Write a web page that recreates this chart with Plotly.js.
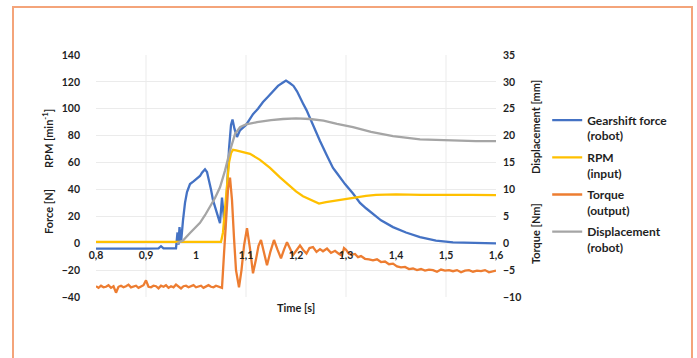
<!DOCTYPE html>
<html>
<head>
<meta charset="utf-8">
<script src="https://cdn.plot.ly/plotly-3.0.1.min.js"></script>
<style>
  html, body { margin: 0; padding: 0; background: #ffffff; }
  #wrap { position: relative; width: 697px; height: 358px; overflow: hidden; }
  #chart { position: absolute; left: 0; top: 0; width: 697px; height: 358px; }
  #frame { position: absolute; left: 12px; top: 6px; width: 677px; height: 360px;
           border: 2px solid #F4A47A; border-bottom: none; pointer-events: none; }
</style>
</head>
<body>
<div id="wrap">
  <div id="chart"></div>
  <div id="frame"></div>
</div>
<script>
// ---------- data ----------
const xTicks = [0.8, 0.9, 1.0, 1.1, 1.2, 1.3, 1.4, 1.5, 1.6];
const gridX = [0.9, 1.1, 1.3, 1.5];

// Gearshift force (robot) [N] – left axis
const forceT = [0.800,0.850,0.900,0.925,0.930,0.935,0.960,0.963,0.965,0.967,0.970,0.974,0.978,0.982,0.988,0.995,
  1.002,1.008,1.012,1.018,1.022,1.026,1.030,1.034,1.040,1.044,1.048,1.052,1.055,1.058,1.062,1.066,1.070,1.073,
  1.077,1.082,1.088,1.094,1.100,1.107,1.114,1.124,1.134,1.144,1.154,1.164,1.174,1.180,1.188,1.195,1.202,1.208,
  1.214,1.221,1.228,1.238,1.248,1.262,1.274,1.282,1.298,1.314,1.328,1.340,1.354,1.370,1.394,1.420,1.448,1.480,
  1.514,1.550,1.594,1.600];
const force = [-4,-4.2,-4,-3.8,-2.2,-3.8,-3.8,8,-1,12,0.5,17,30,38,44,46,
  48,50,52.5,55,53,47,40,32,24,19,15,34,22,10,40,70,88,92,
  85,79,84,86,88,92,96,100,105,109,113,117,119.5,121,119,117,113,109,
  104,99,93,84,76,65,56,52,44,37,30,26,22,17,12,8,4.5,2,
  0.7,0.3,0,-0.1];

// RPM (input) [min-1] – left axis
const rpmT = [0.800,1.050,1.054,1.058,1.062,1.066,1.070,1.074,1.080,1.090,1.108,1.128,1.148,1.168,1.188,1.200,
  1.214,1.230,1.246,1.260,1.280,1.300,1.320,1.340,1.360,1.380,1.400,1.450,1.500,1.550,1.600];
const rpm = [1,1,8,25,45,60,67,69.5,69,68,66.5,62,56,49,42,38.5,
  35,32,29.5,30.5,31.8,33,34.3,35.2,36,36.3,36.3,36,36.2,36,35.8];

// Torque (output) [Nm] – right axis
const torqueT = [0.800,0.805,0.810,0.815,0.820,0.825,0.830,0.835,0.840,0.845,
  0.850,0.855,0.860,0.865,0.870,0.875,0.880,0.885,0.890,0.895,
  0.900,0.905,0.910,0.915,0.920,0.925,0.930,0.935,0.940,0.945,
  0.950,0.955,0.960,0.965,0.970,0.975,0.980,0.985,0.990,0.995,
  1.000,1.005,1.010,1.015,1.020,1.025,1.030,1.035,1.040,1.045,1.050,
  1.052,1.056,1.060,1.064,1.068,1.072,1.076,1.080,1.086,1.091,1.096,1.102,1.108,1.114,1.120,1.125,1.130,1.136,
  1.142,1.149,1.156,1.163,1.170,1.176,1.182,1.188,1.194,1.201,1.208,1.214,1.221,1.227,1.234,1.241,1.248,1.254,
  1.262,1.270,1.278,1.286,1.292,1.296,1.300,1.306,1.312,1.318,1.324,1.330,1.338,1.346,1.354,1.362,1.370,1.378,
  1.386,1.394,1.402,1.410,1.418,1.426,1.434,1.442,1.450,1.458,1.466,1.474,1.482,1.490,1.498,1.506,1.514,1.522,
  1.530,1.538,1.546,1.554,1.562,1.570,1.578,1.586,1.594,1.600];
const torque = [-8.0,-8.3,-7.9,-8.2,-8.1,-7.8,-8.3,-8.0,-9.2,-8.1,
  -7.9,-8.2,-8.0,-7.7,-8.2,-8.1,-7.9,-8.3,-8.0,-7.8,
  -6.9,-8.1,-8.2,-7.9,-8.0,-8.4,-7.9,-8.1,-7.8,-8.3,
  -8.0,-8.2,-7.7,-8.1,-8.4,-8.0,-7.9,-8.2,-8.0,-7.8,
  -8.2,-8.0,-7.9,-8.3,-8.0,-7.8,-8.1,-8.2,-7.9,-8.1,-8.3,
  -8.3,-2,4,10,12.2,8,1,-5,-8.2,-5,-0.5,2.8,-1,-5.6,-3,-0.5,0.6,-2,
  -4.1,-1.5,0.6,-1.2,-2.8,-1.2,0.2,-1.0,-2.2,-1.3,-0.4,-1.2,-1.9,-0.9,-0.7,-1.6,-1.1,-1.5,
  -1.0,-1.8,-1.4,-2.0,-2.3,-0.9,-1.2,-2.0,-2.1,-2.0,-2.6,-2.4,-2.9,-3.0,-3.2,-3.0,-3.5,-3.4,
  -3.9,-3.8,-4.3,-4.5,-4.4,-4.8,-4.7,-5.0,-4.8,-5.1,-4.9,-5.0,-5.3,-4.9,-5.1,-5.0,-5.2,-5.0,
  -5.4,-5.1,-5.0,-5.3,-5.1,-5.2,-5.0,-5.4,-5.2,-5.1];

// Displacement (robot) [mm] – right axis
const dispT = [0.962,0.974,0.988,1.000,1.008,1.018,1.028,1.038,1.048,1.058,1.068,1.078,1.088,1.100,1.122,1.150,
  1.174,1.200,1.228,1.255,1.282,1.314,1.350,1.394,1.448,1.514,1.560,1.600];
const disp = [0,0.5,1.9,3,3.8,5.2,6.7,8.4,10.4,13.5,17.2,20.3,21.6,22.1,22.5,22.9,
  23.1,23.2,23.1,22.8,22.2,21.6,20.7,19.9,19.3,19.1,19.0,19.0];

const seriesNames = ['Gearshift force<br>(robot)', 'RPM<br>(input)', 'Torque<br>(output)', 'Displacement<br>(robot)'];
const colors = ['#4472C4', '#FFC000', '#ED7D31', '#A5A5A5'];

// ---------- chart ----------
const FONT = 'Lato, "Open Sans", "DejaVu Sans", sans-serif';
const TXT = '#1f1f1f';

const traces = [
  {x: forceT, y: force, yaxis: 'y', name: seriesNames[0], legendgroup: 'a'},
  {x: rpmT, y: rpm, yaxis: 'y', name: seriesNames[1], legendgroup: 'b'},
  {x: torqueT, y: torque, yaxis: 'y2', name: seriesNames[2], legendgroup: 'c'},
  {x: dispT, y: disp, yaxis: 'y2', name: seriesNames[3], legendgroup: 'd'}
].map((t, i) => Object.assign(t, {
  type: 'scatter', mode: 'lines',
  line: {color: colors[i], width: 2.3}
}));

const tickFont = {family: FONT, size: 10.5, color: TXT, weight: 700};
const titleFont = {family: FONT, size: 11, color: TXT, weight: 700};

function vTitle(text, x, y) {
  return {text: text, xref: 'paper', yref: 'paper', x: x, y: y, xanchor: 'center', yanchor: 'middle',
    textangle: -90, showarrow: false, font: titleFont};
}

const layout = {
  width: 697, height: 358,
  margin: {l: 96, r: 201, t: 55, b: 61, pad: 0},
  paper_bgcolor: '#ffffff', plot_bgcolor: '#ffffff',
  separators: ',.',
  showlegend: true,
  xaxis: {
    range: [0.8, 1.6], tickvals: xTicks, anchor: 'free', position: 40 / 180,
    showgrid: false, zeroline: false, showline: false, ticks: '',
    tickfont: tickFont, ticklabelstandoff: 4
  },
  yaxis: {
    range: [-40, 140], dtick: 20, showgrid: true, gridcolor: '#ebebeb', gridwidth: 1,
    zeroline: false, showline: false, ticks: '', tickfont: tickFont, ticklabelstandoff: 15
  },
  yaxis2: {
    range: [-10, 35], dtick: 5, overlaying: 'y', side: 'right', showgrid: false,
    zeroline: false, showline: false, ticks: '', tickfont: tickFont, ticklabelstandoff: 6
  },
  shapes: gridX.map(v => ({type: 'line', xref: 'x', yref: 'paper', x0: v, x1: v, y0: 0, y1: 1,
    line: {color: '#ebebeb', width: 1}, layer: 'below'})),
  legend: {
    x: 1.128, y: 0.79, xanchor: 'left', yanchor: 'top',
    font: {family: FONT, size: 12, color: TXT, weight: 700},
    valign: 'top', tracegroupgap: 3, traceorder: 'grouped', bgcolor: 'rgba(0,0,0,0)'
  },
  annotations: [
    vTitle('Force [N]', -0.12, 0.351),
    vTitle('RPM [min<sup>-1</sup>]', -0.12, 0.653),
    vTitle('Displacement [mm]', 1.0975, 0.702),
    vTitle('Torque [Nm]', 1.0975, 0.260),
    {text: 'Time [s]', xref: 'paper', yref: 'paper', x: 0.5, y: -0.045, xanchor: 'center', yanchor: 'middle',
      showarrow: false, font: titleFont}
  ]
};

Plotly.newPlot('chart', traces, layout, {displayModeBar: false, staticPlot: true});
</script>
</body>
</html>
